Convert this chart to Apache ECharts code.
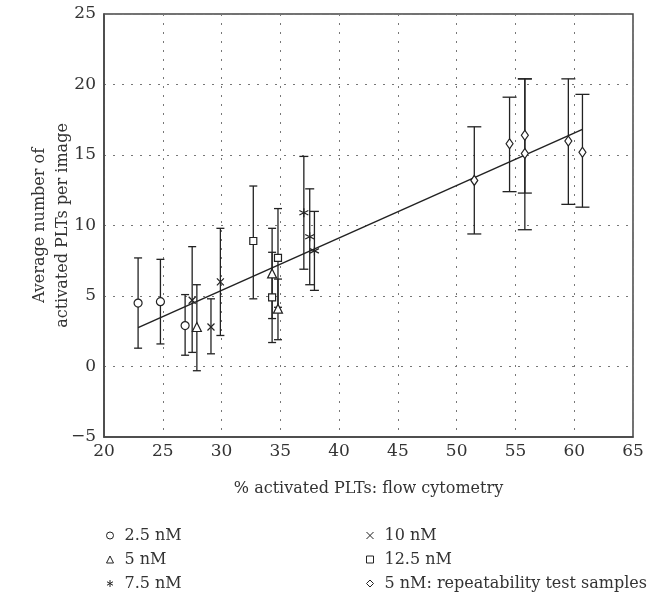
<!DOCTYPE html>
<html>
<head>
<meta charset="utf-8">
<script src="https://cdn.jsdelivr.net/npm/echarts@6/dist/echarts.min.js"></script>
<style>
  html, body { margin: 0; padding: 0; background: #fff; }
  #main { width: 656px; height: 601px; }
</style>
</head>
<body>
<div id="main"></div>
<script>
// each point: [x, y, errLow, errHigh]
const conc25 = [[22.9, 4.5, 1.3, 7.7], [24.8, 4.6, 1.6, 7.6], [26.9, 2.9, 0.8, 5.1]];
const conc5 = [[27.9, 2.8, -0.3, 5.8], [34.3, 6.6, 3.4, 9.8], [34.8, 4.1, 1.9, 6.2]];
const conc75 = [[37.0, 10.9, 6.9, 14.9], [37.5, 9.2, 5.8, 12.6], [37.9, 8.2, 5.4, 11.0]];
const conc10 = [[27.5, 4.7, 1.0, 8.5], [29.1, 2.8, 0.9, 4.8], [29.9, 6.0, 2.2, 9.8]];
const conc125 = [[32.7, 8.9, 4.8, 12.8], [34.3, 4.9, 1.7, 8.1], [34.8, 7.7, 4.2, 11.2]];
const repeat5 = [[51.5, 13.2, 9.4, 17.0], [54.5, 15.8, 12.4, 19.1], [55.8, 16.4, 12.3, 20.4],
                 [55.8, 15.1, 9.7, 20.4], [59.5, 16.0, 11.5, 20.4], [60.7, 15.2, 11.3, 19.3]];
const fitLine = [[22.9, 2.76], [60.7, 16.82]];

const names = ['2.5 nM', '5 nM', '7.5 nM', '10 nM', '12.5 nM', '5 nM: repeatability test samples'];
const ink = '#222';
const font = '"DejaVu Serif", "Liberation Serif", serif';

const crossPath = 'path://M0,0L10,10M10,0L0,10';
const starPath = 'path://M5,0L5,10M0.7,2.5L9.3,7.5M0.7,7.5L9.3,2.5';

const groups = [
    { name: names[0], data: conc25, symbol: 'circle', size: 8, cap: 8 },
    { name: names[1], data: conc5, symbol: 'triangle', size: 9, cap: 8 },
    { name: names[2], data: conc75, symbol: starPath, size: 9, cap: 9 },
    { name: names[3], data: conc10, symbol: crossPath, size: 7, cap: 8 },
    { name: names[4], data: conc125, symbol: 'rect', size: 7, cap: 8 },
    { name: names[5], data: repeat5, symbol: 'diamond', size: [7, 10], cap: 14 }
];

function errorBars(g) {
    return {
        type: 'custom',
        silent: true,
        z: 2,
        data: g.data,
        encode: { x: 0, y: [2, 3] },
        renderItem: function (params, api) {
            const x = api.value(0);
            const lo = api.coord([x, api.value(2)]);
            const hi = api.coord([x, api.value(3)]);
            const h = g.cap / 2;
            const st = { stroke: ink, lineWidth: 1.3 };
            return {
                type: 'group',
                children: [
                    { type: 'line', shape: { x1: lo[0], y1: lo[1], x2: hi[0], y2: hi[1] }, style: st },
                    { type: 'line', shape: { x1: lo[0] - h, y1: lo[1], x2: lo[0] + h, y2: lo[1] }, style: st },
                    { type: 'line', shape: { x1: hi[0] - h, y1: hi[1], x2: hi[0] + h, y2: hi[1] }, style: st }
                ]
            };
        }
    };
}

const series = [];
groups.forEach(function (g) {
    series.push(errorBars(g));
});
series.push({
    type: 'line',
    data: fitLine,
    symbol: 'none',
    silent: true,
    z: 3,
    lineStyle: { color: ink, width: 1.5 }
});
groups.forEach(function (g) {
    series.push({
        name: g.name,
        type: 'scatter',
        data: g.data.map(function (d) { return [d[0], d[1]]; }),
        symbol: g.symbol,
        symbolSize: g.size,
        z: 4,
        itemStyle: { color: '#fff', borderColor: ink, borderWidth: 1.2, opacity: 1 }
    });
});

const legendBase = {
    orient: 'vertical', top: 526, padding: 0,
    itemWidth: 7, itemHeight: 7, itemGap: 5,
    itemStyle: { borderWidth: 1 },
    textStyle: { fontFamily: font, fontSize: 16, color: '#333', lineHeight: 19, padding: [0, 0, 0, 6] }
};

const chart = echarts.init(document.getElementById('main'));
chart.setOption({
    animation: false,
    backgroundColor: '#fff',
    textStyle: { fontFamily: font },
    grid: { left: 104, right: 23, top: 14, bottom: 164, show: true, borderColor: '#444', borderWidth: 1.5 },
    xAxis: {
        type: 'value',
        min: 20, max: 65, interval: 5,
        name: '% activated PLTs: flow cytometry',
        nameLocation: 'middle',
        nameGap: 44,
        nameMoveOverlap: false,
        nameTextStyle: { fontFamily: font, fontSize: 16, color: '#333' },
        axisLine: { show: true, onZero: false, lineStyle: { color: '#444', width: 1.5 } },
        axisTick: { show: false },
        axisLabel: { fontFamily: font, fontSize: 17, color: '#333', margin: 6 },
        splitLine: { show: true, lineStyle: { color: '#777', type: [2, 7], width: 1 } }
    },
    yAxis: {
        type: 'value',
        min: -5, max: 25, interval: 5,
        name: 'Average number of\nactivated PLTs per image',
        nameLocation: 'middle',
        nameGap: 30,
        nameMoveOverlap: false,
        nameTextStyle: { fontFamily: font, fontSize: 16, color: '#333', lineHeight: 23 },
        axisLine: { show: true, onZero: false, lineStyle: { color: '#444', width: 1.5 } },
        axisTick: { show: false },
        axisLabel: {
            fontFamily: font, fontSize: 17, color: '#333', margin: 8,
            formatter: function (v) { return String(v).replace('-', '\u2212'); }
        },
        splitLine: { show: true, lineStyle: { color: '#777', type: [2, 7], width: 1 } }
    },
    legend: [
        Object.assign({ left: 106, data: names.slice(0, 3) }, legendBase),
        Object.assign({ left: 366, data: names.slice(3) }, legendBase)
    ],
    series: series
});
</script>
</body>
</html>
